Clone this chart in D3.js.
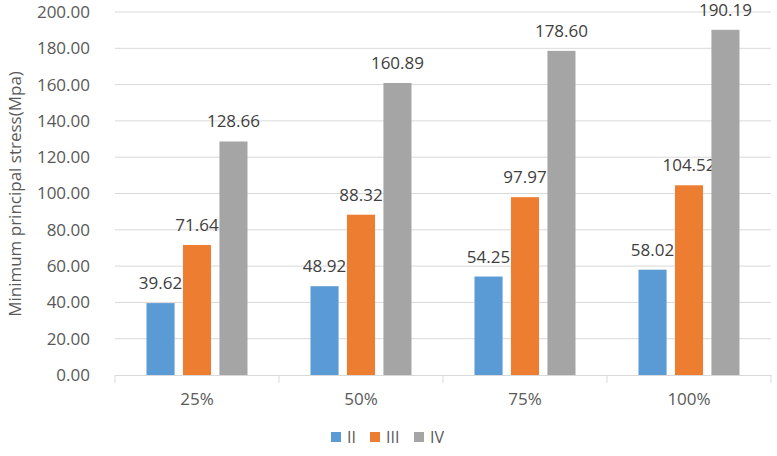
<!DOCTYPE html>
<html><head><meta charset="utf-8">
<script src="https://cdn.jsdelivr.net/npm/d3@7"></script>
<style>body{margin:0;background:#fff}svg{display:block;font-family:"Open Sans",sans-serif}</style>
</head><body><svg id="c" width="777" height="456"></svg>
<script>
const categories = ["25%","50%","75%","100%"];
const seriesNames = ["II","III","IV"];
const seriesII = [39.62,48.92,54.25,58.02];
const seriesIII = [71.64,88.32,97.97,104.52];
const seriesIV = [128.66,160.89,178.60,190.19];
const yTicks = [0,20,40,60,80,100,120,140,160,180,200];
const colors = ["#5B9BD5","#ED7D31","#A5A5A5"];
const series = [seriesII, seriesIII, seriesIV];

const svg = d3.select("#c");
const L = 115, R = 771, T = 12, B = 375;
const x = d3.scaleBand().domain(categories).range([L,R]).paddingInner(0).paddingOuter(0);
const y = d3.scaleLinear().domain([0,200]).range([B,T]);
const xi = d3.scaleBand().domain(seriesNames).range([31.5, x.bandwidth()-31.5]).paddingInner(0.23).paddingOuter(0);
const textColor = "#595959";

// gridlines
svg.append("g").selectAll("line").data(yTicks.filter(d=>d>0)).join("line")
  .attr("x1",L).attr("x2",R).attr("y1",d=>y(d)).attr("y2",d=>y(d))
  .attr("stroke","#D9D9D9").attr("stroke-width",1);

// y axis labels
const yAxis = svg.append("g").attr("transform",`translate(${L},0)`)
  .call(d3.axisLeft(y).tickValues(yTicks).tickFormat(d3.format(".2f")).tickSize(0).tickPadding(25));
yAxis.select(".domain").remove();
yAxis.selectAll("text").attr("fill",textColor).attr("font-size",17).attr("font-family","Open Sans");

// x axis
const xAxis = svg.append("g").attr("transform",`translate(0,${B})`)
  .call(d3.axisBottom(x).tickSize(0).tickPadding(18));
xAxis.select(".domain").attr("stroke","#D9D9D9");
xAxis.selectAll("text").attr("fill",textColor).attr("font-size",17).attr("font-family","Open Sans");
// tick marks at band edges
svg.append("g").selectAll("line").data(d3.range(categories.length+1)).join("line")
  .attr("x1",i=>L+i*x.bandwidth()).attr("x2",i=>L+i*x.bandwidth())
  .attr("y1",B).attr("y2",B+8).attr("stroke","#D9D9D9");

// bars
series.forEach((vals,si)=>{
  const g = svg.append("g");
  g.selectAll("rect").data(vals).join("rect")
    .attr("x",(d,i)=>x(categories[i])+xi(seriesNames[si]))
    .attr("width",xi.bandwidth())
    .attr("y",d=>y(d)).attr("height",d=>B-y(d))
    .attr("fill",colors[si]);
  g.selectAll("text").data(vals).join("text")
    .attr("x",(d,i)=>x(categories[i])+xi(seriesNames[si])+xi.bandwidth()/2)
    .attr("y",d=>y(d)-14)
    .attr("text-anchor","middle").attr("fill","#404040").attr("font-size",17)
    .text(d=>d.toFixed(2));
});

// y title
svg.append("text").attr("transform","translate(21,194) rotate(-90)")
  .attr("text-anchor","middle").attr("fill",textColor).attr("font-size",17)
  .text("Minimum principal stress(Mpa)");

// legend
const legX = [331,370,414];
const lg = svg.append("g");
seriesNames.forEach((n,i)=>{
  lg.append("rect").attr("x",legX[i]).attr("y",432).attr("width",10).attr("height",10).attr("fill",colors[i]);
  lg.append("text").attr("x",legX[i]+16).attr("y",443).attr("fill",textColor).attr("font-size",16).text(n);
});
</script></body></html>
